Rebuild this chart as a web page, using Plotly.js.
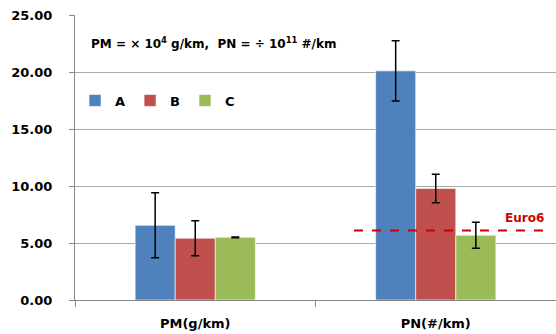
<!DOCTYPE html>
<html>
<head>
<meta charset="utf-8">
<script src="https://cdn.plot.ly/plotly-3.0.1.min.js"></script>
<style>html,body{margin:0;padding:0;background:#fff;}#chart{width:556px;height:334px;}</style>
</head>
<body>
<div id="chart"></div>
<script>
const categories = ["PM(g/km)", "PN(#/km)"];
const seriesNames = ["A", "B", "C"];
const valuesA = [6.55, 20.1];
const valuesB = [5.42, 9.78];
const valuesC = [5.5, 5.68];
const errA = [2.85, 2.65];
const errB = [1.53, 1.25];
const errC = [0.03, 1.13];
const euro6Value = 6.1;
const euro6Span = [0.66, 1.46];
const yTicks = [0, 5, 10, 15, 20, 25];

const colors = ["#4f81bd", "#c0504d", "#9bbb59"];
const xPos = categories.map((c, i) => i);
const vals = [valuesA, valuesB, valuesC];
const errs = [errA, errB, errC];
const font = "DejaVu Sans, sans-serif";

const traces = seriesNames.map((n, k) => ({
  type: "bar",
  name: n,
  x: xPos,
  y: vals[k],
  marker: {color: colors[k], line: {color: "rgba(255,255,255,0.6)", width: 1}},
  error_y: {type: "data", array: errs[k], visible: true, color: "#000", thickness: 1.5, width: 4},
  hoverinfo: "skip"
}));

traces.push({
  type: "scatter",
  mode: "lines",
  x: euro6Span,
  y: [euro6Value, euro6Value],
  line: {color: "#cc0000", width: 2, dash: "dash"},
  showlegend: false,
  hoverinfo: "skip"
});

const layout = {
  width: 556, height: 334,
  margin: {l: 75, r: 0, t: 15, b: 34},
  paper_bgcolor: "#fff", plot_bgcolor: "#fff",
  barmode: "group", bargap: 0.5, bargroupgap: 0,
  showlegend: true,
  legend: {orientation: "h", x: 0.0, y: 0.70, xanchor: "left", yanchor: "middle",
    font: {family: font, size: 13, color: "#000", weight: "bold"},
    itemwidth: 30, tracegroupgap: 0, bgcolor: "rgba(0,0,0,0)"},
  xaxis: {
    range: [-0.5, 1.5], tickvals: xPos, ticktext: categories,
    ticks: "", showgrid: false, zeroline: false,
    showline: true, linecolor: "#888", linewidth: 1,
    tickfont: {family: font, size: 13, color: "#000", weight: "bold"},
    ticklabelstandoff: 11,
    minor: {tick0: 0.5, dtick: 1, ticks: "outside", ticklen: 6, tickcolor: "#888", showgrid: false}
  },
  yaxis: {
    range: [0, 25], tickvals: yTicks, ticktext: yTicks.map(v => v.toFixed(2)),
    ticks: "outside", ticklen: 5, tickcolor: "#888",
    showgrid: true, gridcolor: "#aaa", gridwidth: 1,
    zeroline: false, showline: true, linecolor: "#888", linewidth: 1,
    tickfont: {family: font, size: 13, color: "#000", weight: "bold"},
    ticklabelstandoff: 14
  },
  annotations: [
    {xref: "paper", yref: "paper", x: 0.03, y: 0.9, xanchor: "left", yanchor: "middle",
     text: "PM = × 10<sup>4</sup> g/km,  PN = ÷ 10<sup>11</sup> #/km", showarrow: false,
     font: {family: font, size: 12, color: "#000", weight: "bold"}},
    {xref: "x", yref: "y", x: euro6Span[1] - 0.09, y: euro6Value, yshift: 3, xanchor: "center", yanchor: "bottom",
     text: "Euro6", showarrow: false,
     font: {family: font, size: 12, color: "#cc0000", weight: "bold"}}
  ]
};

Plotly.newPlot("chart", traces, layout, {staticPlot: true, displayModeBar: false});
</script>
</body>
</html>
